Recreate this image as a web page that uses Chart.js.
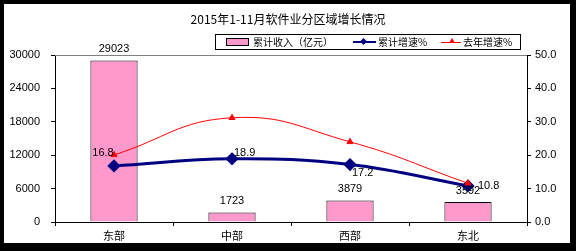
<!DOCTYPE html>
<html>
<head>
<meta charset="utf-8">
<script src="https://cdn.jsdelivr.net/npm/chart.js@4/dist/chart.umd.min.js"></script>
<style>
  body { margin: 0; background: #000; width: 576px; height: 251px; overflow: hidden; }
  #frame { position: absolute; left: 4px; top: 4px; width: 566px; height: 239px; background: #fff; }
  #wrap { position: absolute; left: 0; top: 0; width: 576px; height: 251px; }
  #title { position: absolute; left: 0; top: 10px; width: 576px; text-align: center;
           font: 12px 'Noto Sans CJK SC', sans-serif; color: #000; }
  #legend { position: absolute; left: 215px; top: 34px; width: 304px; height: 14px;
            border: 1px solid #000; background: #fff; font: 10px 'Noto Sans CJK SC', sans-serif;
            line-height: 14px; white-space: nowrap; }
  .it { position: absolute; top: 0; }
  .sw { position: absolute; }
</style>
</head>
<body>
<div id="frame"></div>
<div id="wrap"><canvas id="c" width="576" height="251"></canvas></div>
<div id="title">2015年1-11月软件业分区域增长情况</div>
<div id="legend">
  <div class="sw" style="left:10px;top:3px;width:21px;height:6px;background:#ff99cc;border:1px solid #000;"></div>
  <div class="it" style="left:37px;">累计收入（亿元）</div>
  <div class="sw" style="left:137px;top:6px;width:23px;height:2px;background:#000080;"></div>
  <div class="sw" style="left:145px;top:4px;width:5px;height:5px;background:#000080;transform:rotate(45deg);"></div>
  <div class="it" style="left:162px;">累计增速%</div>
  <div class="sw" style="left:225px;top:7px;width:20px;height:1px;background:#ff0000;"></div>
  <div class="sw" style="left:233px;top:3px;width:0;height:0;border-left:3px solid transparent;border-right:3px solid transparent;border-bottom:5px solid #ff0000;"></div>
  <div class="it" style="left:247px;">去年增速%</div>
</div>
<script>
// data
const categories = ['东部', '中部', '西部', '东北'];
const revenue = [29023, 1723, 3879, 3592];          // 累计收入（亿元）
const growth = [16.8, 18.9, 17.2, 10.8];            // 累计增速%
const lastYearGrowth = [20.1, 31.2, 24.0, 11.6];    // 去年增速%
const leftTicks = [0, 6000, 12000, 18000, 24000, 30000];
const rightTicks = [0, 10, 20, 30, 40, 50];

// label offsets for the growth line (dx, dy, align)
const growthLabelPos = [[-11, -13, 'center'], [2, -6, 'left'], [2, 8, 'left'], [10, 0, 'left']];

const FONT = "'Liberation Sans', 'Noto Sans CJK SC', sans-serif";

const labelPlugin = {
  id: 'labels',
  beforeDatasetsDraw(chart) {
    // grey top edge of the plot area
    const ctx = chart.ctx, a = chart.chartArea;
    ctx.save();
    ctx.strokeStyle = '#808080';
    ctx.lineWidth = 1;
    ctx.beginPath();
    ctx.moveTo(a.left, a.top + 0.5);
    ctx.lineTo(a.right, a.top + 0.5);
    ctx.stroke();
    ctx.restore();
  },
  afterDatasetsDraw(chart) {
    const ctx = chart.ctx;
    ctx.save();
    ctx.fillStyle = '#000';
    ctx.font = '11px ' + FONT;
    ctx.textBaseline = 'middle';
    // bar labels
    chart.getDatasetMeta(0).data.forEach((bar, i) => {
      ctx.textAlign = 'center';
      ctx.fillText(String(revenue[i]), bar.x, bar.y - 11);
    });
    // growth labels
    chart.getDatasetMeta(1).data.forEach((pt, i) => {
      const p = growthLabelPos[i];
      ctx.textAlign = p[2];
      ctx.fillText(growth[i].toFixed(1), pt.x + p[0], pt.y + p[1]);
    });
    ctx.restore();
  }
};

new Chart(document.getElementById('c'), {
  type: 'bar',
  data: {
    labels: categories,
    datasets: [
      {
        type: 'bar', label: '累计收入（亿元）', data: revenue, yAxisID: 'y',
        backgroundColor: '#ff99cc', borderColor: '#000', borderWidth: 1,
        categoryPercentage: 1, barPercentage: 0.4, order: 3
      },
      {
        type: 'line', label: '累计增速%', data: growth, yAxisID: 'y1',
        borderColor: '#000080', backgroundColor: '#000080', borderWidth: 3,
        tension: 0.4, pointStyle: 'rectRot', pointRadius: 4.5, order: 2
      },
      {
        type: 'line', label: '去年增速%', data: lastYearGrowth, yAxisID: 'y1',
        borderColor: '#ff0000', backgroundColor: '#ff0000', borderWidth: 1,
        tension: 0.45, pointStyle: 'triangle', pointRadius: 3.5, order: 1
      }
    ]
  },
  options: {
    animation: false,
    responsive: false,
    layout: { padding: { left: 0, right: 0, top: 55, bottom: 0 } },
    plugins: { legend: { display: false }, tooltip: { enabled: false } },
    scales: {
      x: {
        offset: true,
        grid: { offset: true, drawOnChartArea: false, drawTicks: true, tickLength: 4, color: '#000' },
        border: { display: true, color: '#000', width: 1 },
        ticks: { color: '#000', font: { size: 11, family: FONT }, padding: 4 },
        afterFit(s) { s.height = 29; }
      },
      y: {
        position: 'left', min: 0, max: 30000,
        afterBuildTicks(s) { s.ticks = leftTicks.map(v => ({ value: v })); },
        grid: { drawOnChartArea: false, drawTicks: true, tickLength: 4, color: '#000' },
        border: { display: true, color: '#000', width: 1 },
        ticks: { color: '#000', font: { size: 11, family: FONT }, padding: 11,
                 callback: v => String(v) },
        afterFit(s) { s.width = 55; }
      },
      y1: {
        position: 'right', min: 0, max: 50,
        afterBuildTicks(s) { s.ticks = rightTicks.map(v => ({ value: v })); },
        grid: { drawOnChartArea: false, drawTicks: true, tickLength: 4, color: '#000' },
        border: { display: true, color: '#000', width: 1 },
        ticks: { color: '#000', font: { size: 11, family: FONT }, padding: 4,
                 callback: v => Number(v).toFixed(1) },
        afterFit(s) { s.width = 49; }
      }
    }
  },
  plugins: [labelPlugin]
});
</script>
</body>
</html>
